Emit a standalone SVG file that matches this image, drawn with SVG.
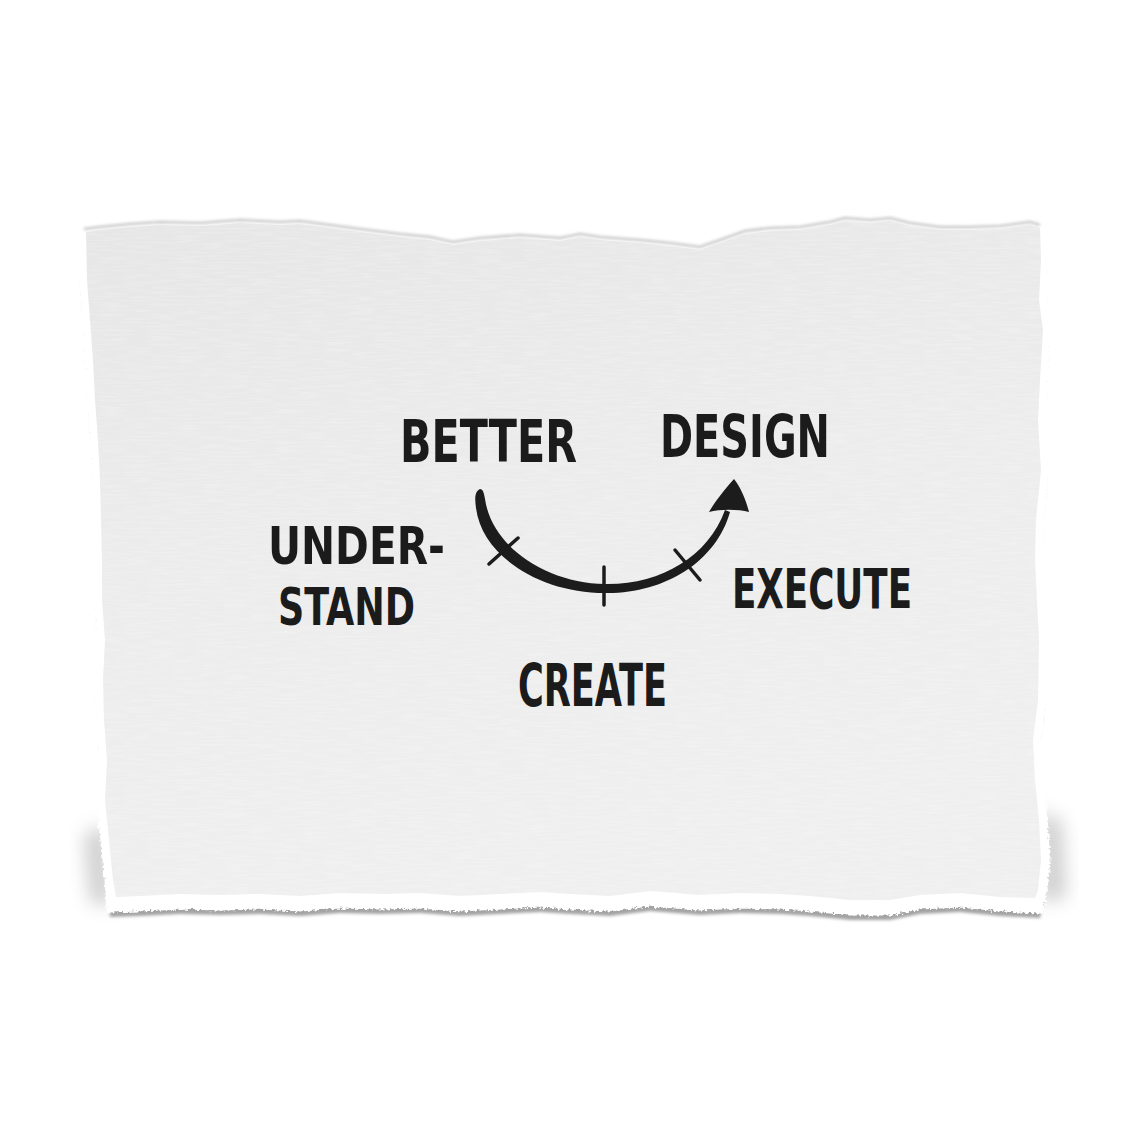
<svg xmlns="http://www.w3.org/2000/svg" width="1140" height="1140" viewBox="0 0 1140 1140">
  <defs>
    <style>
      .lbl { font-family: "DejaVu Sans Condensed", "DejaVu Sans", "Liberation Sans", sans-serif; font-weight: bold; fill: #1b1b1b; }
      .ink { fill: #1c1c1c; }
      .tick { stroke: #1c1c1c; stroke-width: 3.5; stroke-linecap: round; fill: none; }
    </style>
    <path id="paperShape" d="M80,224 L100,222 130,219 160,217 200,218 240,215 280,217 300,216 330,220 360,224 400,229 430,232 453,237 480,233 520,230 560,233 580,229 600,232 640,235 670,238 700,242 720,235 745,226 770,223 800,222 830,217 845,213 870,215 890,213 910,218 940,222 970,222 1000,221 1030,217 1045,220 1046,260 1044,300 1048,330 1045,380 1043,420 1046,470 1041,520 1040,560 1042,600 1044,640 1043,700 1038,740 1040,780 1044,820 1047,860 1044,890 1040,910 1000,908 960,904 920,906 890,912 850,912 810,908 780,906 740,905 700,907 650,903 610,908 570,906 540,904 500,906 460,908 420,905 380,906 340,905 300,908 260,906 220,907 180,906 140,908 110,909 108,880 104,840 100,800 102,760 99,720 98,680 100,640 97,600 97,560 96,520 95,480 93,440 90,400 88,360 85,320 82,280 Z"/>
    <filter id="blur8" x="-50%" y="-50%" width="200%" height="200%">
      <feGaussianBlur stdDeviation="9"/>
    </filter>
    <filter id="blur2" x="-10%" y="-10%" width="120%" height="120%">
      <feGaussianBlur stdDeviation="1.5"/>
    </filter>
    <filter id="fluff" x="-5%" y="-5%" width="110%" height="110%">
      <feTurbulence type="fractalNoise" baseFrequency="0.35" numOctaves="2" seed="3" result="n"/>
      <feDisplacementMap in="SourceGraphic" in2="n" scale="6" xChannelSelector="R" yChannelSelector="G"/>
    </filter>
    <filter id="texture" x="0" y="0" width="100%" height="100%">
      <feTurbulence type="fractalNoise" baseFrequency="0.04 0.5" numOctaves="2" seed="7" result="n"/>
      <feColorMatrix in="n" type="matrix" values="0 0 0 0 1  0 0 0 0 1  0 0 0 0 1  0 0 0 -0.9 0.55" result="w"/>
      <feComposite in="w" in2="SourceGraphic" operator="in"/>
    </filter>
    <linearGradient id="paperGrad" x1="0" y1="0" x2="0.3" y2="1">
      <stop offset="0" stop-color="#e6e6e6"/>
      <stop offset="0.5" stop-color="#ececec"/>
      <stop offset="1" stop-color="#efefef"/>
    </linearGradient>
  </defs>

  <rect width="1140" height="1140" fill="#ffffff"/>

  <!-- cast shadows -->
  <g id="shadows">
    <path d="M84,835 L108,825 112,906 90,902 Z" fill="#a8a8a8" filter="url(#blur8)" opacity="0.55"/>
    <path d="M1040,810 L1062,822 1066,898 1040,902 Z" fill="#a8a8a8" filter="url(#blur8)" opacity="0.55"/>
    <use href="#paperShape" transform="translate(0,8)" fill="#a3a3a3" filter="url(#blur2)"/>
  </g>

  <!-- paper -->
  <g id="paper">
    <use href="#paperShape" fill="#ffffff" stroke="#ffffff" stroke-width="7" stroke-linejoin="round" filter="url(#fluff)"/>
    <path d="M84,229 L100,227 130,224 160,222 200,223 240,220 280,222 300,221 330,225 360,229 400,234 430,237 453,242 480,238 520,235 560,238 580,234 600,237 640,240 670,243 700,247 720,240 745,231 770,228 800,227 830,222 845,218 870,220 890,218 910,223 940,227 970,227 1000,226 1030,222 1040,225" fill="none" stroke="#b9b9b9" stroke-width="2" filter="url(#blur2)"/>
    <path id="paperBody" d="M86,232 L100,230 130,227 160,225 200,226 240,223 280,225 300,224 330,228 360,232 400,237 430,240 453,245 480,241 520,238 560,241 580,237 600,240 640,243 670,246 700,250 720,243 745,234 770,231 800,230 830,225 845,221 870,223 890,221 910,226 940,230 970,230 1000,229 1030,225 1040,228 1041,260 1039,300 1043,330 1040,380 1038,420 1041,470 1036,520 1035,560 1037,600 1039,640 1038,700 1033,740 1035,780 1039,820 1041,860 1038,890 1035,898 1000,897 960,893 920,895 890,900 850,900 810,896 780,894 740,893 700,895 650,891 610,896 570,894 540,892 500,894 460,896 420,893 380,894 340,893 300,896 260,894 220,895 180,894 140,896 116,897 113,880 109,840 105,800 107,760 104,720 103,680 105,640 102,600 102,560 101,520 100,480 98,440 95,400 93,360 90,320 87,280 Z" fill="url(#paperGrad)"/>
    <use href="#paperBody" fill="#000" filter="url(#texture)" opacity="0.5"/>
  </g>

  <!-- connectors -->
  <g id="connectors">
    <path class="ink" d="M480,489 C474,492 475,500 476,508 C482,556 540,593 605,593 C664,594 716,562 730,512 L725,510 C708,557 660,585 605,584 C548,583 492,548 485,499 C484,493 483,489 480,489 Z"/>
    <path class="ink" d="M709,512 C716,500 726,488 734,479 C741,488 746,500 749,512 C738,509 720,509 709,512 Z"/>
    <line class="tick" x1="489" y1="564" x2="518" y2="538"/>
    <line class="tick" x1="604" y1="567" x2="604" y2="605"/>
    <line class="tick" x1="675" y1="550" x2="700" y2="580"/>
  </g>

  <g id="node-better">
    <text class="lbl" x="400" y="462" font-size="58" textLength="177" lengthAdjust="spacingAndGlyphs">BETTER</text>
  </g>
  <g id="node-design">
    <text class="lbl" x="660" y="457" font-size="58" textLength="170" lengthAdjust="spacingAndGlyphs">DESIGN</text>
  </g>
  <g id="node-understand">
    <text class="lbl" x="268" y="564" font-size="52" textLength="177" lengthAdjust="spacingAndGlyphs">UNDER-</text>
    <text class="lbl" x="278" y="625" font-size="52" textLength="137" lengthAdjust="spacingAndGlyphs">STAND</text>
  </g>
  <g id="node-execute">
    <text class="lbl" x="732" y="608" font-size="56" textLength="180" lengthAdjust="spacingAndGlyphs">EXECUTE</text>
  </g>
  <g id="node-create">
    <text class="lbl" x="518" y="706" font-size="58" textLength="149" lengthAdjust="spacingAndGlyphs">CREATE</text>
  </g>
</svg>
